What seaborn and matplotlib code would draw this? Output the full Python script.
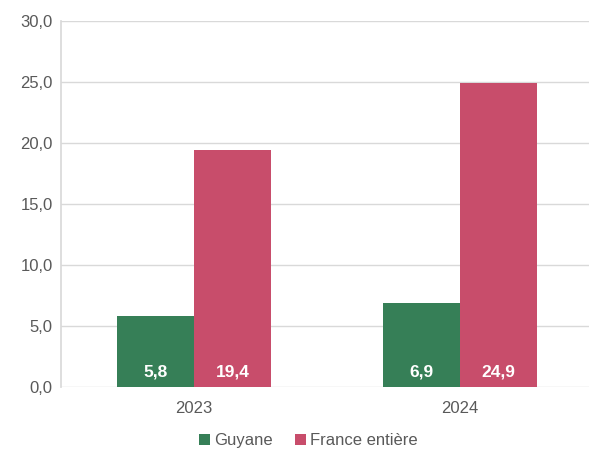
import pandas as pd
import numpy as np
import matplotlib.pyplot as plt
import seaborn as sns

# data
years = ['2023', '2024']
guyane = [5.8, 6.9]
france = [19.4, 24.9]
series = ['Guyane', 'France entière']
colors = ['#367F57', '#C84D6B']

df = pd.DataFrame({
    'annee': years * 2,
    'valeur': guyane + france,
    'zone': [series[0]] * len(years) + [series[1]] * len(years),
})

sns.set_theme(style='white')
plt.rcParams['font.family'] = ['Liberation Sans', 'DejaVu Sans']

fig = plt.figure(figsize=(5.89, 4.5), dpi=100)
ax = fig.add_axes([0.1036, 0.14, 0.903, 0.813])

sns.barplot(data=df, x='annee', y='valeur', hue='zone', palette=colors,
            width=0.58, saturation=1, linewidth=0, ax=ax, legend=True)

ax.set_ylim(0, 30)
ax.set_yticks(np.arange(0, 31, 5))
ax.set_yticklabels([f'{v:.1f}'.replace('.', ',') for v in np.arange(0, 31, 5)])
ax.yaxis.grid(True, color='#D9D9D9', linewidth=1)
ax.set_axisbelow(True)
ax.set_xlabel('')
ax.set_ylabel('')
for s in ['top', 'right', 'bottom']:
    ax.spines[s].set_visible(False)
ax.spines['left'].set_color('#D9D9D9')
ax.tick_params(axis='y', colors='#595959', labelsize=12, length=0, pad=6)
ax.tick_params(axis='x', colors='#595959', labelsize=12, length=0, pad=10)

for cont in ax.containers:
    for bar in cont:
        h = bar.get_height()
        ax.text(bar.get_x() + bar.get_width() / 2, 1.2,
                f'{h:.1f}'.replace('.', ','), ha='center', va='center',
                color='white', fontsize=12.5, fontweight='bold')

ax.legend(loc='upper center', bbox_to_anchor=(0.465, -0.085), ncol=2,
          frameon=False, fontsize=12, handlelength=0.65, handleheight=0.65,
          handletextpad=0.25, columnspacing=1.3, labelcolor='#595959')

fig.savefig('out.png', dpi=100)
